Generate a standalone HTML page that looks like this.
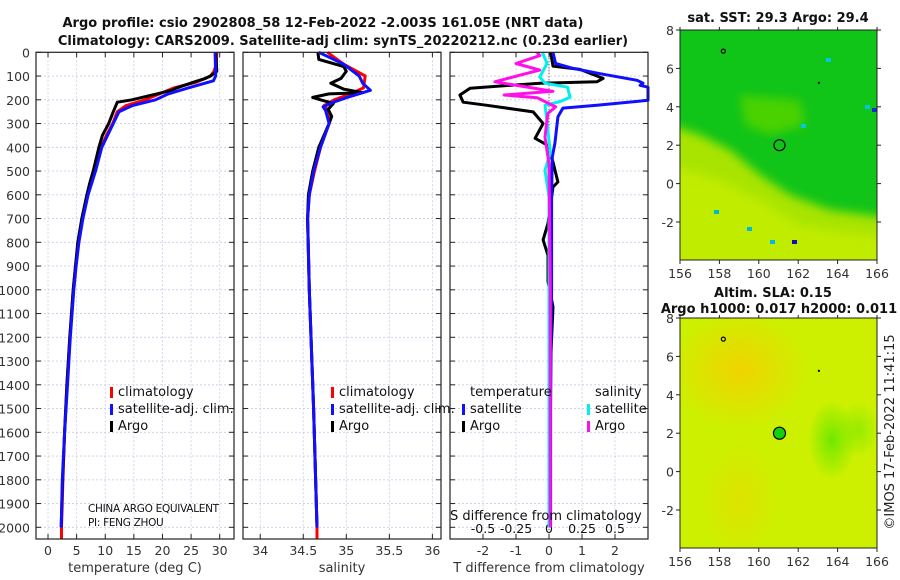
<!DOCTYPE html>
<html><head><meta charset="utf-8"><style>
html,body{margin:0;padding:0;background:#fff;}
svg{display:block;font-family:"DejaVu Sans","Liberation Sans",sans-serif;}
</style></head><body>
<svg id="fig" width="900" height="580" viewBox="0 0 900 580" xmlns="http://www.w3.org/2000/svg">
<defs>
<filter id="blur4"><feGaussianBlur stdDeviation="5"/></filter>
<filter id="blur2"><feGaussianBlur stdDeviation="2"/></filter>
<radialGradient id="slaOr" cx="0.5" cy="0.5" r="0.5"><stop offset="0" stop-color="#f0d400"/><stop offset="1" stop-color="#f0d400" stop-opacity="0"/></radialGradient>
<radialGradient id="slaGr" cx="0.5" cy="0.5" r="0.5"><stop offset="0" stop-color="#70e800"/><stop offset="1" stop-color="#70e800" stop-opacity="0"/></radialGradient>
<clipPath id="clipSst"><rect x="680" y="30" width="197" height="230"/></clipPath>
<clipPath id="clipSla"><rect x="680" y="318" width="197" height="230"/></clipPath>
</defs>
<g id="root"></g>
</svg>
<script>
// depth levels & profiles (temperature panel)
const tDepthClim = [0,50,80,100,125,150,175,200,225,250,300,350,400,500,600,700,800,900,1000,1200,1400,1600,1800,2000,2050];
const tClim      = [29.5,29.4,29.0,28.4,26,22,19.5,17,13.6,12.1,11.3,10.2,9.3,8.2,6.9,6.0,5.3,4.8,4.4,3.8,3.3,2.9,2.6,2.35,2.35];
const tDepthSat  = [0,100,120,150,175,200,225,250,300,400,500,600,700,800,900,1000,1200,1400,1600,1800,2000];
const tSat       = [29.2,29.3,28.9,24.5,21,18.8,14.7,12.4,11.4,9.4,8.3,7.0,6.1,5.4,4.9,4.5,3.9,3.4,2.9,2.5,2.3];
const tDepthArgo = [0,80,100,110,125,150,160,175,190,200,210,250,300,350,400,500,550,600,700,800,900,1000,1200,1400,1600,1800,2000];
const tArgo      = [29.3,29.5,28.4,27.5,25.5,22.5,21.6,19,16.4,14.7,12.1,11.4,10.6,9.5,8.9,7.9,7.3,6.8,5.9,5.2,4.8,4.4,3.8,3.3,2.9,2.55,2.3];
// salinity panel
const sDepthClim = [0,50,100,150,175,200,225,250,300,400,500,600,700,1000,1500,2000,2050];
const sClim      = [34.78,34.97,35.22,35.2,35.05,34.86,34.74,34.8,34.8,34.7,34.63,34.57,34.55,34.57,34.62,34.66,34.66];
const sDepthSat  = [0,50,100,130,160,190,210,230,245,300,400,500,600,700,1000,1500,2000];
const sSat       = [34.68,34.97,35.15,35.19,35.28,35.01,34.85,34.73,34.76,34.8,34.7,34.62,34.57,34.55,34.57,34.62,34.66];
const sDepthArgo = [0,30,60,80,110,130,155,170,175,190,200,215,240,270,300,400,500,600,700,1000,1500,2000];
const sArgo      = [34.67,34.68,34.97,35.0,34.94,34.82,34.97,35.19,34.8,34.61,34.7,34.85,34.79,34.83,34.8,34.68,34.61,34.56,34.55,34.57,34.62,34.66];
// difference panel
const dDepthTS = [0,47,68,90,118,130,139,147,202,223,235,272,383,440,600,1000,1500,2000];
const dTSat    = [0.12,0.2,0.73,1.55,2.67,2.85,2.76,3.0,3.0,1.45,0.42,0.27,0.18,0.1,0.08,0.08,0.05,0.05];
const dDepthTA = [0,58,72,110,124,130,151,180,210,223,251,300,362,390,462,546,567,720,790,855,965,1072,1300,1600,2000];
const dTArgo   = [0.05,0.12,0.94,1.64,1.45,-0.27,-2.39,-2.7,-2.6,-1.88,-0.48,-0.18,-0.42,-0.06,0.12,0.27,0.12,-0.03,-0.18,-0.03,-0.03,0.12,0.05,0.03,0.0];
const dDepthSS = [0,47,104,130,147,189,208,223,270,424,496,608,1000,1500,2000];
const dSSat    = [-0.05,-0.015,-0.07,-0.03,0.14,0.16,0.08,-0.03,-0.02,0.01,-0.03,0.0,0.0,0.0,0.0];
const dDepthSA = [0,14,47,75,89,124,164,180,191,230,258,357,470,1000,1500,2000];
const dSArgo   = [-0.09,-0.07,-0.25,-0.07,-0.17,-0.41,0.03,-0.34,-0.09,0.05,-0.01,-0.03,0.0,0.01,0.01,0.01];
// tick labels
const depthTicks = [0,100,200,300,400,500,600,700,800,900,1000,1100,1200,1300,1400,1500,1600,1700,1800,1900,2000];
const tTicks = [0,5,10,15,20,25,30];
const sTicks = [34,34.5,35,35.5,36];
const sTickLabels = ["34","34.5","35","35.5","36"];
const dTTicks = [-2,-1,0,1,2];
const dSTicks = [-0.5,-0.25,0,0.25,0.5];
const dSTickLabels = ["-0.5","-0.25","0","0.25","0.5"];
const lonTicks = [156,158,160,162,164,166];
const latTicks = [-2,0,2,4,6,8];

const NS="http://www.w3.org/2000/svg";
const root=document.getElementById('root');
function mk(tag,attrs,parent,txt){const e=document.createElementNS(NS,tag);for(const k in attrs)e.setAttribute(k,attrs[k]);if(txt!==undefined)e.textContent=txt;(parent||root).appendChild(e);return e;}

const Y0=52.3, Y1=539, yScale=d=>Y0+d*0.2375;
const panels=[
 {x0:36,x1:234,lo:-2.1,hi:32.5,name:'temperature-panel'},
 {x0:243,x1:441,lo:33.80,hi:36.10,name:'salinity-panel'},
 {x0:450,x1:648,lo:-3,hi:3,name:'difference-panel'}
];
panels.forEach(p=>p.sx=v=>p.x0+(v-p.lo)/(p.hi-p.lo)*(p.x1-p.x0));
const dS=v=>panels[2].sx(v*4);

function panelFrame(p,xt,xtl,labY){
 const g=mk('g',{});
 
 
 mk('rect',{x:p.x0,y:Y0,width:p.x1-p.x0,height:Y1-Y0,fill:'#fff'},g);
 depthTicks.forEach(d=>{const y=yScale(d);mk('line',{x1:p.x0,x2:p.x1,y1:y,y2:y,stroke:'#c8cce8','stroke-width':0.8,'stroke-dasharray':'2,2'},g);
  mk('line',{x1:p.x0,x2:p.x0+5,y1:y,y2:y,stroke:'#222'},g);mk('line',{x1:p.x1-5,x2:p.x1,y1:y,y2:y,stroke:'#222'},g);});
 xt.forEach((v,i)=>{const x=p.sx(v);mk('line',{x1:x,x2:x,y1:Y0,y2:Y1,stroke:'#c8cce8','stroke-width':0.8,'stroke-dasharray':'2,2'},g);
  mk('line',{x1:x,x2:x,y1:Y1-5,y2:Y1,stroke:'#222'},g);mk('line',{x1:x,x2:x,y1:Y0,y2:Y0+5,stroke:'#222'},g);
  const t=mk('text',{x:x,y:labY,'font-size':12.5,fill:'#333','text-anchor':'middle'},g,xtl[i]);
  });
 return g;
}
function line(p,xs,ds,col,w,nm,fx){
 const f=fx||p.sx;
 const pts=xs.map((v,i)=>{let x=f(v);x=Math.max(p.x0,Math.min(p.x1,x));return x.toFixed(1)+','+yScale(ds[i]).toFixed(1);}).join(' ');
 const e=mk('polyline',{points:pts,fill:'none',stroke:col,'stroke-width':w,'stroke-linejoin':'round'});
 
 
}
function frame(p){mk('rect',{x:p.x0,y:Y0,width:p.x1-p.x0,height:Y1-Y0,fill:'none',stroke:'#222','stroke-width':1.2});}

// panel 1
panelFrame(panels[0],tTicks,tTicks.map(String),555);
depthTicks.forEach(d=>{const t=mk('text',{x:30,y:yScale(d)+5,'font-size':12.5,fill:'#333','text-anchor':'end'},root,String(d));});
line(panels[0],tClim,tDepthClim,'#f00',3,'climatology-temperature-line');
line(panels[0],tArgo,tDepthArgo,'#000',3,'argo-temperature-line');
line(panels[0],tSat,tDepthSat,'#1010ff',3,'satellite-temperature-line');
frame(panels[0]);
// panel 2
panelFrame(panels[1],sTicks,sTickLabels,555);
line(panels[1],sClim,sDepthClim,'#f00',3,'climatology-salinity-line');
line(panels[1],sArgo,sDepthArgo,'#000',3,'argo-salinity-line');
line(panels[1],sSat,sDepthSat,'#1010ff',3,'satellite-salinity-line');
frame(panels[1]);
// panel 3
panelFrame(panels[2],dTTicks,dTTicks.map(String),555);
dSTicks.forEach((v,i)=>{const t=mk('text',{x:dS(v),y:533,'font-size':12.5,fill:'#111','text-anchor':'middle'},root,dSTickLabels[i]);});
mk('line',{x1:panels[2].sx(0),x2:panels[2].sx(0),y1:Y0,y2:Y1,stroke:'#333','stroke-dasharray':'1,2'});
line(panels[2],dTArgo,dDepthTA,'#000',3,'argo-t-diff-line');
line(panels[2],dTSat,dDepthTS,'#1010ff',3,'satellite-t-diff-line');
line(panels[2],dSSat,dDepthSS,'#00f0f0',3,'satellite-s-diff-line',dS);
line(panels[2],dSArgo,dDepthSA,'#ff10e8',3,'argo-s-diff-line',dS);
frame(panels[2]);

function txt(x,y,s,opts,name){const a=Object.assign({x:x,y:y,'font-size':13,fill:'#111'},opts||{});const t=mk('text',a,root,s);return t;}
function mark(x,y,col,name){const r=mk('rect',{x:x,y:y-8,width:3,height:11,fill:col});}
// legends
[[110,'p1'],[331,'p2']].forEach(([lx,k])=>{
 mark(lx,395,'#f00',k+'-legend-climatology-marker');txt(lx+8,396,'climatology',{},k+'-legend-climatology');
 mark(lx,412,'#1010ff',k+'-legend-satellite-marker');txt(lx+8,413,'satellite-adj. clim.',{},k+'-legend-satellite');
 mark(lx,429,'#000',k+'-legend-argo-marker');txt(lx+8,430,'Argo',{},k+'-legend-argo');
});
txt(470,396,'temperature',{},'legend-temperature-heading');
mark(462,412,'#1010ff','legend-t-satellite-marker');txt(470,413,'satellite',{},'legend-t-satellite');
mark(462,429,'#000','legend-t-argo-marker');txt(470,430,'Argo',{},'legend-t-argo');
txt(595,396,'salinity',{},'legend-salinity-heading');
mark(587,412,'#00f0f0','legend-s-satellite-marker');txt(595,413,'satellite',{},'legend-s-satellite');
mark(587,429,'#ff10e8','legend-s-argo-marker');txt(595,430,'Argo',{},'legend-s-argo');
txt(88,512,'CHINA ARGO EQUIVALENT',{'font-size':10.5,'letter-spacing':'-0.3'},'pi-institution-note');
txt(88,526,'PI: FENG ZHOU',{'font-size':10.5,'letter-spacing':'-0.3'},'pi-name-note');
txt(450,520,'S difference from climatology',{'font-size':13},'s-diff-axis-title');
txt(135,572,'temperature (deg C)',{'font-size':13,'text-anchor':'middle',fill:'#333'},'temperature-axis-title');
txt(342,572,'salinity',{'font-size':13,'text-anchor':'middle',fill:'#333'},'salinity-axis-title');
txt(549,572,'T difference from climatology',{'font-size':13,'text-anchor':'middle',fill:'#333'},'t-diff-axis-title');
txt(323,27,'Argo profile: csio 2902808_58 12-Feb-2022 -2.003S 161.05E (NRT data)',{'font-size':13,'font-weight':'bold','text-anchor':'middle'},'main-title-line1');
txt(343,45,'Climatology: CARS2009. Satellite-adj clim: synTS_20220212.nc (0.23d earlier)',{'font-size':13,'font-weight':'bold','text-anchor':'middle'},'main-title-line2');

// maps
const lonX=v=>680+(v-156)*19.7;
function mapAxes(top,bot,name){
 const latY=v=>top+(8-v)*19.2;
 const g=mk('g',{});
 mk('rect',{x:680,y:top,width:197,height:bot-top,fill:'none',stroke:'#222','stroke-width':1},g);
 lonTicks.forEach(v=>{const x=lonX(v);mk('line',{x1:x,x2:x,y1:bot,y2:bot+4,stroke:'#222'},g);mk('line',{x1:x,x2:x,y1:top,y2:top-3,stroke:'#222'},g);
  const t=mk('text',{x:x,y:bot+18,'font-size':12.5,fill:'#333','text-anchor':'middle'},g,String(v));});
 latTicks.forEach(v=>{const y=latY(v);mk('line',{x1:676,x2:680,y1:y,y2:y,stroke:'#222'},g);mk('line',{x1:877,x2:881,y1:y,y2:y,stroke:'#222'},g);
  const t=mk('text',{x:674,y:y+5,'font-size':12.5,fill:'#333','text-anchor':'end'},g,String(v));});
 return latY;
}
// SST map
const sst=mk('g',{'clip-path':'url(#clipSst)'});
mk('rect',{x:680,y:30,width:197,height:230,fill:'#10c418'},sst);
mk('polygon',{points:'740,95 800,100 805,125 770,135 745,125',fill:'#48d200',filter:'url(#blur4)'},sst);
mk('polygon',{points:'670,125 700,135 730,150 760,175 790,195 830,210 890,218 890,270 670,270',fill:'#a8e400',filter:'url(#blur4)'},sst);
mk('polygon',{points:'670,165 720,180 760,200 800,225 840,232 890,236 890,270 670,270',fill:'#c0ec00',filter:'url(#blur4)'},sst);
[[826,58,'#00c8e0'],[865,105,'#00c8e0'],[872,108,'#1030d0'],[801,124,'#00c8e0'],[714,210,'#00b8d0'],[792,240,'#1010b0'],[770,240,'#00b8e0'],[747,227,'#00b8e0']].forEach(c=>mk('rect',{x:c[0],y:c[1],width:5,height:4,fill:c[2]},sst));
let la=mapAxes(30,260,'sst-map-axes');
mk('circle',{cx:lonX(161.05),cy:la(2),r:5.5,fill:'none',stroke:'#000','stroke-width':1.2});
mk('circle',{cx:lonX(158.2),cy:la(6.9),r:2,fill:'none',stroke:'#000','stroke-width':1.2});
mk('rect',{x:lonX(163),y:la(5.3),width:2,height:2,fill:'#000'});
txt(778,22,'sat. SST: 29.3 Argo: 29.4',{'font-weight':'bold','text-anchor':'middle','font-size':13},'sst-map-title');
// SLA map
const sla=mk('g',{'clip-path':'url(#clipSla)'});
mk('rect',{x:680,y:318,width:197,height:230,fill:'#ccf000'},sla);
mk('ellipse',{cx:740,cy:370,rx:70,ry:60,fill:'url(#slaOr)'},sla);
mk('ellipse',{cx:740,cy:500,rx:40,ry:60,fill:'url(#slaOr)',opacity:0.5},sla);
mk('ellipse',{cx:832,cy:440,rx:24,ry:40,fill:'url(#slaGr)'},sla);
mk('ellipse',{cx:858,cy:430,rx:22,ry:28,fill:'url(#slaGr)',opacity:0.6},sla);
la=mapAxes(318,548,'sla-map-axes');
mk('circle',{cx:lonX(161.05),cy:la(2),r:6,fill:'#10d010',stroke:'#000','stroke-width':1.2});
mk('circle',{cx:lonX(158.2),cy:la(6.9),r:2,fill:'none',stroke:'#000','stroke-width':1.2});
mk('rect',{x:lonX(163),y:la(5.3),width:2,height:2,fill:'#000'});
txt(773,297,'Altim. SLA: 0.15',{'font-weight':'bold','text-anchor':'middle','font-size':13},'sla-map-title-line1');
txt(779,313,'Argo h1000: 0.017 h2000: 0.011',{'font-weight':'bold','text-anchor':'middle','font-size':13},'sla-map-title-line2');
txt(0,0,'©IMOS 17-Feb-2022 11:41:15',{'font-size':13,fill:'#222','text-anchor':'middle',transform:'translate(894,432) rotate(-90)'},'imos-timestamp');
</script>
</body></html>
